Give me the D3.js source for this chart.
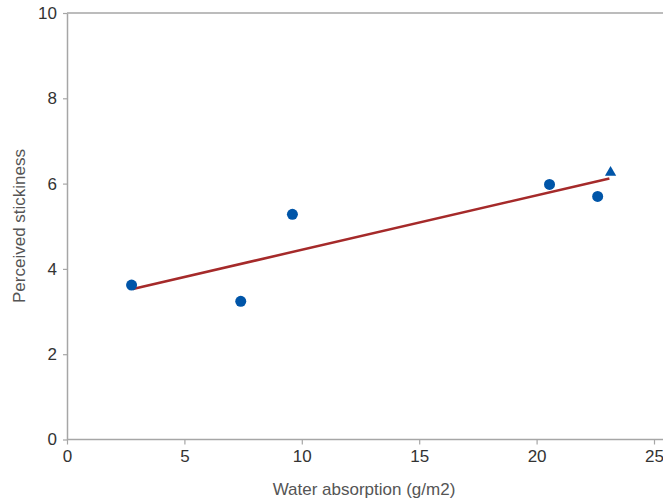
<!DOCTYPE html>
<html>
<head>
<meta charset="utf-8">
<script src="https://cdn.jsdelivr.net/npm/d3@7"></script>
<style>
  body { margin: 0; background: #fff; }
  svg { display: block; font-family: Arial, "Liberation Sans", sans-serif; }
</style>
</head>
<body>
<svg id="chart" width="663" height="499"></svg>
<script>
// measured points (circles) and the one triangle point
const absorption = [2.75, 7.4, 9.6, 20.55, 22.6];
const stickiness = [3.62, 3.24, 5.28, 5.98, 5.70];
const triX = [23.15];
const triY = [6.26];
// fitted line end points
const fitX = [2.8, 23.1];
const fitY = [3.53, 6.12];
const xTicks = [0, 5, 10, 15, 20, 25];
const yTicks = [0, 2, 4, 6, 8, 10];

const svg = d3.select('#chart');
const plotLeft = 67, plotTop = 13, plotRight = 663, plotBottom = 439.5;

const x = d3.scaleLinear().domain([0, 25]).range([plotLeft, 654]);
const y = d3.scaleLinear().domain([0, 10]).range([plotBottom, plotTop]);

const axisColor = '#a6a6a6';
const textColor = '#333';

// top frame line
svg.append('line').attr('x1', plotLeft).attr('x2', plotRight).attr('y1', plotTop).attr('y2', plotTop)
    .attr('stroke', axisColor).attr('stroke-width', 1.5);

const xAxis = svg.append('g')
    .attr('transform', `translate(0,${plotBottom})`)
    .call(d3.axisBottom(x).tickValues(xTicks).tickSize(5).tickSizeOuter(0).tickPadding(5));
xAxis.select('.domain').attr('d', `M${plotLeft},0H${plotRight}`);

const yAxis = svg.append('g')
    .attr('transform', `translate(${plotLeft},0)`)
    .call(d3.axisLeft(y).tickValues(yTicks).tickSize(4).tickSizeOuter(0).tickPadding(6));

[xAxis, yAxis].forEach(g => {
    g.select('.domain').attr('stroke', axisColor).attr('stroke-width', 1.5);
    g.selectAll('.tick line').attr('stroke', axisColor).attr('stroke-width', 1.2);
    g.selectAll('.tick text').attr('fill', textColor).style('font-size', '17px');
});

// regression line
svg.append('line')
    .attr('x1', x(fitX[0])).attr('y1', y(fitY[0]))
    .attr('x2', x(fitX[1])).attr('y2', y(fitY[1]))
    .attr('stroke', '#a52a2a').attr('stroke-width', 2.5);

svg.selectAll('.pt')
    .data(absorption)
    .join('circle')
    .attr('class', 'pt')
    .attr('cx', d => x(d))
    .attr('cy', (d, i) => y(stickiness[i]))
    .attr('r', 5.5)
    .attr('fill', '#0055a8');

svg.selectAll('.tri')
    .data(triX)
    .join('path')
    .attr('class', 'tri')
    .attr('d', d3.symbol().type(d3.symbolTriangle).size(55))
    .attr('transform', (d, i) => `translate(${x(d)},${y(triY[i])})`)
    .attr('fill', '#0055a8');

// axis titles
svg.append('text')
    .attr('x', 364).attr('y', 495)
    .attr('text-anchor', 'middle')
    .attr('fill', '#555')
    .style('font-size', '17px')
    .text('Water absorption (g/m2)');

svg.append('text')
    .attr('transform', 'translate(25,226) rotate(-90)')
    .attr('text-anchor', 'middle')
    .attr('fill', '#555')
    .style('font-size', '17px')
    .text('Perceived stickiness');
</script>
</body>
</html>
